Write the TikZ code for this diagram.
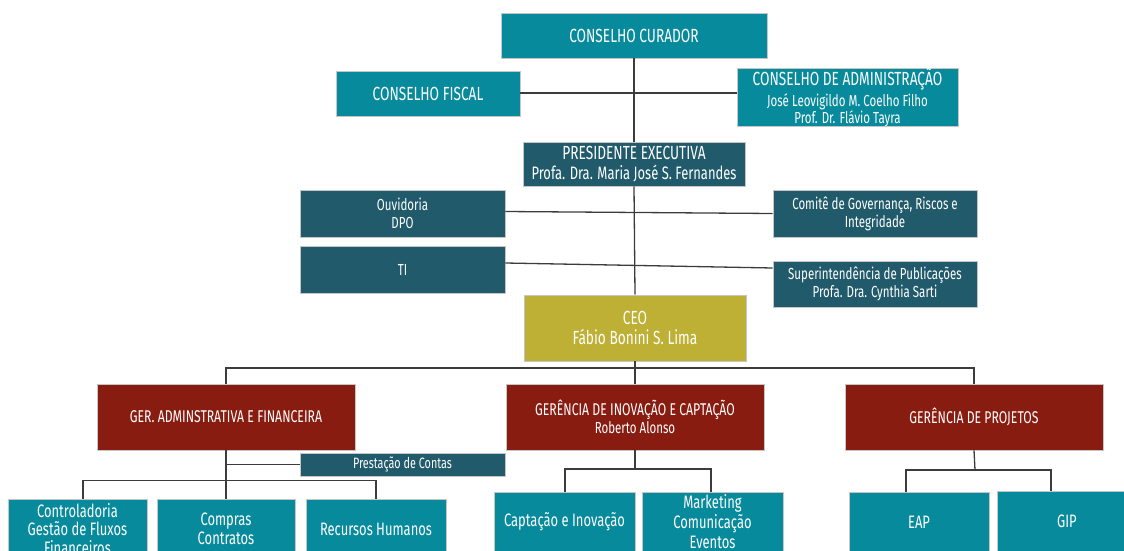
\documentclass[tikz,border=0pt]{standalone}
\usepackage{fontspec}
\setmainfont{Fira Sans}[FakeStretch=0.72]
\usetikzlibrary{calc}
\definecolor{teal1}{HTML}{078A9B}
\definecolor{dteal}{HTML}{205A6B}
\definecolor{olive1}{HTML}{BDB034}
\definecolor{dred}{HTML}{881C10}
\definecolor{linec}{HTML}{3C3C3C}
\newcommand\orgbox[7]{\node[#6, minimum width={(#4)-(#2)}, minimum height={(#5)-(#3)}] (#1) at ({((#2)+(#4))/2},{((#3)+(#5))/2}) {#7};}
\begin{document}
\begin{tikzpicture}[x=1pt,y=-1pt,
  box/.style={draw=gray!45, line width=0.6pt, text=white, align=center, inner sep=0pt},
  tealbox/.style={box, fill=teal1},
  dbox/.style={box, fill=dteal},
  obox/.style={box, fill=olive1},
  rbox/.style={box, fill=dred},
  conn/.style={draw=linec, line width=1.3pt}]
\useasboundingbox (0,0) rectangle (1124,551);
\clip (0,0) rectangle (1124,551);
\fill[white] (0,0) rectangle (1124,551);
% top
\orgbox{curador}{501}{13}{767}{58}{tealbox,font=\fontsize{19}{21}\selectfont}{CONSELHO CURADOR}
\orgbox{fiscal}{336}{71}{520}{116}{tealbox,font=\fontsize{19}{21}\selectfont}{CONSELHO FISCAL}
\orgbox{adm}{737}{71}{958}{124}{tealbox,font=\fontsize{16}{17}\selectfont}{{\fontsize{19}{21}\selectfont CONSELHO DE ADMINISTRAÇÃO}\\[2pt]José Leovigildo M. Coelho Filho\\Prof. Dr. Flávio Tayra}
\orgbox{pres}{523}{142}{745}{186}{dbox,font=\fontsize{18}{20}\selectfont}{{\fontsize{19}{20}\selectfont PRESIDENTE EXECUTIVA}\\Profa. Dra. Maria José S. Fernandes}
\orgbox{ouv}{300}{190}{505}{237}{dbox,font=\fontsize{16}{18}\selectfont}{Ouvidoria\\DPO}
\orgbox{comite}{773}{190}{977}{237}{dbox,font=\fontsize{16}{18}\selectfont}{Comitê de Governança, Riscos e\\Integridade}
\orgbox{ti}{300}{246}{505}{293}{dbox,font=\fontsize{16}{18}\selectfont}{TI}
\orgbox{sup}{773}{261}{977}{307}{dbox,font=\fontsize{16}{18}\selectfont}{Superintendência de Publicações\\Profa. Dra. Cynthia Sarti}
\orgbox{ceo}{524}{295}{746}{361}{obox,font=\fontsize{19}{20}\selectfont}{CEO\\Fábio Bonini S. Lima}
% managers
\orgbox{gadm}{97}{384}{355}{450}{rbox,font=\fontsize{17}{18}\selectfont}{GER. ADMINSTRATIVA E FINANCEIRA}
\orgbox{ginov}{506}{384}{764}{450}{rbox,font=\fontsize{16}{17.5}\selectfont}{{\fontsize{17}{17.5}\selectfont GERÊNCIA DE INOVAÇÃO E CAPTAÇÃO}\\Roberto Alonso}
\orgbox{gproj}{845}{384}{1103}{450}{rbox,font=\fontsize{17}{18}\selectfont}{GERÊNCIA DE PROJETOS}
\orgbox{prest}{300}{453}{505}{476}{dbox,font=\fontsize{15}{16}\selectfont}{Prestação de Contas}
% bottom
\orgbox{ctrl}{8}{499}{147}{559}{tealbox,font=\fontsize{18}{18.5}\selectfont}{Controladoria\\Gestão de Fluxos\\Financeiros}
\orgbox{comp}{157}{499}{295}{559}{tealbox,font=\fontsize{18}{19.5}\selectfont}{Compras\\Contratos}
\orgbox{rh}{306}{499}{446}{559}{tealbox,font=\fontsize{18}{19.5}\selectfont}{Recursos Humanos}
\orgbox{cap}{494}{492}{635}{552}{tealbox,font=\fontsize{18}{19.5}\selectfont}{Captação e Inovação}
\orgbox{mkt}{642}{492}{783}{552}{tealbox,font=\fontsize{18}{20}\selectfont}{Marketing\\Comunicação\\Eventos}
\orgbox{eap}{849}{492}{989}{552}{tealbox,font=\fontsize{18}{19.5}\selectfont}{EAP}
\orgbox{gip}{997}{491}{1137}{552}{tealbox,font=\fontsize{18}{19.5}\selectfont}{GIP}
% connectors
\draw[conn] (curador.south) -- (pres.north);
\draw[conn] ($(fiscal.east)+(0,-0.5)$) -- ($(adm.west|-fiscal.east)+(0,-0.5)$);
\draw[conn] (pres.south) -- (ceo.north);
\draw[conn] ($(ouv.east)+(0,-2)$) -- (comite.west);
\draw[conn] ($(ti.east)+(0,-6.5)$) -- ($(sup.west)+(0,-16)$);
\coordinate (bus) at (635,368);
\draw[conn] (ceo.south) -- (bus) -- (ginov.north);
\draw[conn] (gadm.north) -- (gadm.north|-bus) -| (gproj.north);
\draw[conn] (gadm.south) -- (comp.north);
\draw[conn] (gadm.south|-prest.west) -- (prest.west);
\draw[conn] ($(ctrl.north)+(5.5,0)$) -- ++(0,-18) -| (rh.north);
\coordinate (ib) at (635,469);
\coordinate (capt) at (565,492);
\coordinate (mktt) at (711,492);
\draw[conn] (ginov.south) -- (ib);
\draw[conn] (capt) |- (ib) -| (mktt);
\coordinate (pb) at (975,470);
\coordinate (eapt) at (906,492);
\coordinate (gipt) at (1051,491);
\draw[conn] (gproj.south) -- (pb);
\draw[conn] (eapt) |- (pb) -| (gipt);
\end{tikzpicture}
\end{document}
